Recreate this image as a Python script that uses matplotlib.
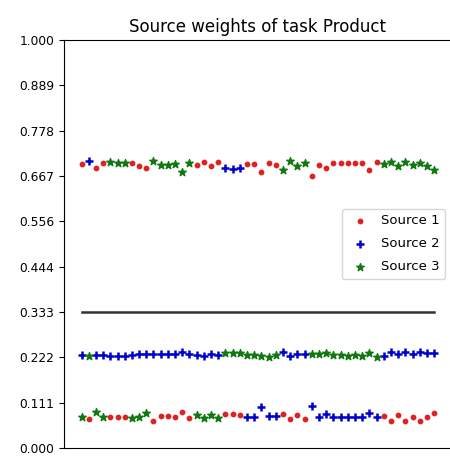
import numpy as np
import matplotlib
matplotlib.use('Agg')
import matplotlib.pyplot as plt

# weights per sample (50 samples), one list per source
source1 = [0.696, 0.072, 0.685, 0.698, 0.075, 0.077, 0.077, 0.698, 0.692, 0.685,
           0.066, 0.078, 0.078, 0.075, 0.088, 0.074, 0.693, 0.700, 0.690, 0.700,
           0.082, 0.084, 0.081, 0.696, 0.696, 0.675, 0.697, 0.694, 0.083, 0.070,
           0.080, 0.072, 0.666, 0.693, 0.685, 0.697, 0.697, 0.699, 0.697, 0.697,
           0.682, 0.700, 0.078, 0.066, 0.081, 0.066, 0.077, 0.066, 0.077, 0.085]
source2 = [0.227, 0.703, 0.228, 0.227, 0.225, 0.226, 0.226, 0.228, 0.231, 0.230,
           0.230, 0.229, 0.229, 0.230, 0.235, 0.229, 0.227, 0.226, 0.229, 0.227,
           0.686, 0.684, 0.686, 0.077, 0.077, 0.100, 0.079, 0.079, 0.235, 0.226,
           0.230, 0.229, 0.103, 0.077, 0.083, 0.075, 0.075, 0.075, 0.075, 0.077,
           0.086, 0.077, 0.226, 0.234, 0.229, 0.234, 0.229, 0.236, 0.233, 0.233]
source3 = [0.077, 0.225, 0.087, 0.075, 0.700, 0.697, 0.697, 0.074, 0.077, 0.085,
           0.704, 0.693, 0.693, 0.695, 0.677, 0.697, 0.080, 0.074, 0.081, 0.073,
           0.232, 0.232, 0.233, 0.227, 0.227, 0.225, 0.224, 0.227, 0.682, 0.704,
           0.690, 0.699, 0.231, 0.230, 0.232, 0.228, 0.228, 0.226, 0.228, 0.226,
           0.232, 0.223, 0.696, 0.700, 0.690, 0.700, 0.694, 0.698, 0.690, 0.682]
labels = ['Source 1', 'Source 2', 'Source 3']
n_sources = 3

x = np.arange(len(source1))

fig = plt.figure(figsize=(4.5, 4.58), dpi=100)
ax = fig.add_axes([0.142, 0.022, 0.862, 0.891])

ax.scatter(x, source1, marker='.', s=40, color='#dd2222', label=labels[0])
ax.scatter(x, source2, marker='+', s=28, color='#0000cc', linewidths=1.8, label=labels[1])
ax.scatter(x, source3, marker='*', s=32, color='#117711', label=labels[2])
ax.plot(x, [1.0 / n_sources] * len(x), color='#333333', linewidth=1.8)

yt = np.linspace(0, 1, 10)
ax.set_yticks(yt)
ax.set_yticklabels(['%.3f' % v for v in yt], fontsize=8.8)
ax.set_ylim(0, 1)
ax.set_xticks([])
ax.set_title('Source weights of task Product', fontsize=12)
ax.legend(loc='center right', fontsize=9.5, scatterpoints=1, labelspacing=0.75,
          handletextpad=0.6)

fig.savefig('out.png', dpi=100)
